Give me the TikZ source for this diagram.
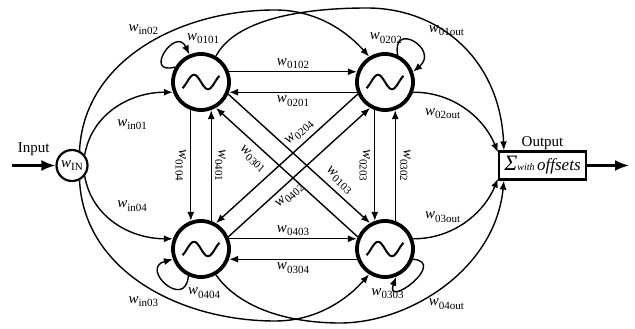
\documentclass[tikz,border=0pt]{standalone}
\usepackage{fontspec}
\setmainfont{Liberation Serif}
\usetikzlibrary{arrows.meta,positioning}
\newcommand{\wlab}[1]{\textit{w}\raisebox{-3.5pt}{\fontsize{11}{12}\selectfont#1}}
\tikzset{
  osc/.style={circle,draw,line width=3.8pt,minimum size=56pt,inner sep=0pt,
    path picture={\draw[line width=2pt,shift={(path picture bounding box.center)}]
      plot[domain=-18.5:18.5,samples=40,smooth] ({\x},{-7.2*sin(\x*12.86)});}},
  innode/.style={circle,draw,line width=2.2pt,minimum size=31pt,inner sep=0pt},
  sumbox/.style={draw,line width=2.2pt,minimum width=87pt,minimum height=28pt,inner sep=2pt},
  fl/.style={-{Latex[length=9pt,width=7pt]},line width=1.4pt},
  bigfl/.style={-{Latex[length=14pt,width=11pt]},line width=2.2pt},
  lbl/.style={inner sep=1pt},
}
\begin{document}
\begin{tikzpicture}[x=1pt,y=1pt,font=\fontsize{15}{18}\selectfont]
  \useasboundingbox (0,0) rectangle (635,329);
  \node[osc] (o1) at (201,247) {};
  \node[osc] (o2) at (385,247) {};
  \node[osc] (o3) at (385,80) {};
  \node[osc] (o4) at (201,80) {};
  \node[innode] (win) at (72,163.5) {\wlab{IN}};
  \node[sumbox] (sum) at (542.5,163.5) {{\fontsize{22}{22}\selectfont\itshape Σ}{\fontsize{10}{10}\selectfont\itshape with}\,{\fontsize{17}{17}\selectfont\itshape offsets}};
  \node[lbl,above=0pt of sum] (outl) {Output};
  \coordinate (inp) at (12,163.5);
  \coordinate (outp) at (629,163.5);
  \draw[bigfl] (inp) -- node[lbl,above=8pt]{Input} (win);
  \draw[bigfl] (sum) -- (outp);
  % square of oscillators
  \draw[fl] (o1.20) -- node[lbl,above=1pt]{\wlab{0102}} (o2.160);
  \draw[fl] (o2.200) -- node[lbl,below=2pt]{\wlab{0201}} (o1.-20);
  \draw[fl] (o4.20) -- node[lbl,above=1pt]{\wlab{0403}} (o3.160);
  \draw[fl] (o3.200) -- node[lbl,below=2pt]{\wlab{0304}} (o4.-20);
  \draw[fl] (o1.250) -- node[lbl,xshift=-10pt,rotate=-90]{\wlab{0104}} (o4.110);
  \draw[fl] (o4.70) -- node[lbl,xshift=9pt,rotate=-90]{\wlab{0401}} (o1.290);
  \draw[fl] (o2.250) -- node[lbl,xshift=-10pt,rotate=-90]{\wlab{0203}} (o3.110);
  \draw[fl] (o3.70) -- node[lbl,xshift=10pt,rotate=-90]{\wlab{0302}} (o2.290);
  % diagonals
  \draw[fl] (o1.-24) -- node[lbl,sloped,above=4pt,pos=0.73]{\wlab{0103}} (o3.120);
  \draw[fl] (o3.156) -- node[lbl,sloped,below=6pt,pos=0.68]{\wlab{0301}} (o1.-60);
  \draw[fl] (o2.204) -- node[lbl,sloped,above=4pt,pos=0.36]{\wlab{0204}} (o4.60);
  \draw[fl] (o4.24) -- node[lbl,sloped,below=4pt,pos=0.38]{\wlab{0402}} (o2.240);
  % self loops
  \draw[fl] (o1.150) .. controls +(195:34) and +(115:32) .. (o1.113)
    node[lbl,pos=1,anchor=south west,xshift=-4pt,yshift=9pt]{\wlab{0101}};
  \draw[fl] (o2.65) .. controls +(100:35) and +(40:35) .. (o2.20)
    node[lbl,pos=0,anchor=south east,xshift=6pt,yshift=10pt]{\wlab{0202}};
  \draw[fl] (o3.-20) .. controls +(-5:35) and +(250:35) .. (o3.-68)
    node[lbl,pos=1,anchor=north east,xshift=9pt,yshift=-10pt]{\wlab{0303}};
  \draw[fl] (o4.245) .. controls +(265:35) and +(195:35) .. (o4.200)
    node[lbl,pos=0,anchor=north west,xshift=-2pt,yshift=-10pt]{\wlab{0404}};
  % input weights
  \draw[fl] (win.40) to[out=80,in=180] node[lbl,pos=0.5,anchor=north west,yshift=-10pt]{\wlab{in01}} (o1.200);
  \draw[fl] (win.-40) to[out=-80,in=180] node[lbl,pos=0.5,anchor=south west,yshift=10pt]{\wlab{in04}} (o4.160);
  \draw[fl] (win.63) .. controls (84,269) and (180,319) .. (275,319)
    node[lbl,pos=0.5,above=10pt]{\wlab{in02}} .. controls (320,319) and (350,294) .. (o2.122);
  \draw[fl] (win.-63) .. controls (84,58) and (180,8) .. (275,8)
    node[lbl,pos=0.5,below=10pt]{\wlab{in03}} .. controls (320,8) and (350,33) .. (o3.-122);
  % output weights
  \draw[fl] (o1.60) .. controls (235,309) and (300,321) .. (367,321)
    .. controls (440,321) and (500,269) .. ([xshift=6pt]sum.north west)
    node[lbl,pos=0.33,xshift=13pt,yshift=-6pt]{\wlab{01out}};
  \draw[fl] (o2.-20) .. controls (455,237) and (485,209) .. ([yshift=-2pt]sum.north west)
    node[lbl,pos=0.45,below left]{\wlab{02out}};
  \draw[fl] (o3.20) .. controls (455,90) and (485,118) .. ([yshift=2pt]sum.south west)
    node[lbl,pos=0.45,above left]{\wlab{03out}};
  \draw[fl] (o4.-60) .. controls (240,20) and (290,6) .. (340,6)
    .. controls (410,6) and (495,60) .. ([xshift=6pt]sum.south west)
    node[lbl,pos=0.35,anchor=west,xshift=12pt]{\wlab{04out}};
\end{tikzpicture}
\end{document}
